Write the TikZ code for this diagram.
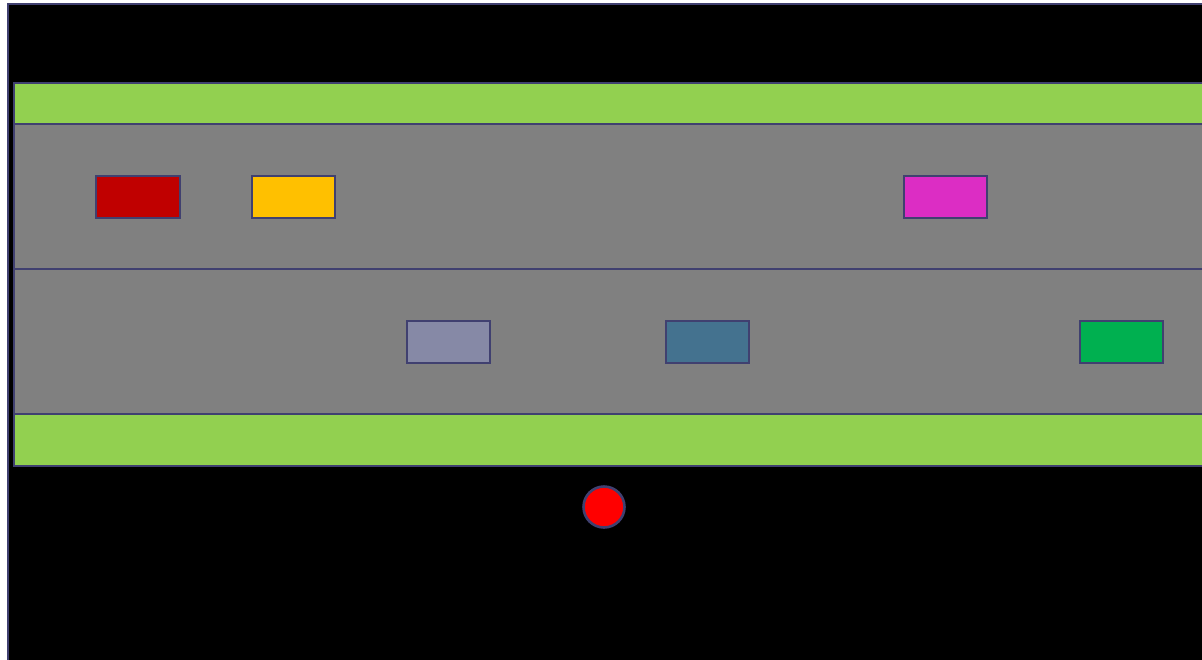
\documentclass[tikz,border=0pt]{standalone}
\definecolor{edge}{HTML}{404070}
\definecolor{grass}{HTML}{92D050}
\definecolor{road}{HTML}{808080}
\definecolor{cred}{HTML}{C00000}
\definecolor{cyellow}{HTML}{FFC000}
\definecolor{cmagenta}{HTML}{DC2DC4}
\definecolor{clav}{HTML}{8689A6}
\definecolor{cblue}{HTML}{44728F}
\definecolor{cgreen}{HTML}{00B050}
\tikzset{
  part/.style={draw=edge, line width=2.2pt},
  car/.style={draw=edge, line width=2.6pt}
}
\begin{document}
\begin{tikzpicture}[x=1pt,y=-1pt]
\useasboundingbox (0,0) rectangle (1202,659);
\begin{scope}
\clip (0,0) rectangle (1202,659);
\filldraw[part, fill=black] (8,4) rectangle (1215,670);
\filldraw[part, fill=grass] (14,83) rectangle (1215,124);
\filldraw[part, fill=road] (14,124) rectangle (1215,269);
\filldraw[part, fill=road] (14,269) rectangle (1215,414);
\filldraw[part, fill=grass] (14,414) rectangle (1215,466);
\filldraw[car, fill=cred] (96,176) rectangle (180,218);
\filldraw[car, fill=cyellow] (252,176) rectangle (335,218);
\filldraw[car, fill=cmagenta] (904,176) rectangle (987,218);
\filldraw[car, fill=clav] (407,321) rectangle (490,363);
\filldraw[car, fill=cblue] (666,321) rectangle (749,363);
\filldraw[car, fill=cgreen] (1080,321) rectangle (1163,363);
\filldraw[car, fill=red] (604,507) circle (20.5);
\end{scope}
\end{tikzpicture}
\end{document}
